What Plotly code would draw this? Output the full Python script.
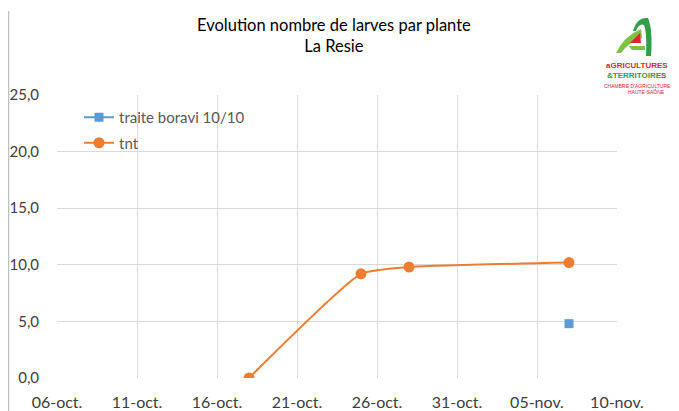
import plotly.graph_objects as go

# ---- data ----
tnt_dates = ["2023-10-18", "2023-10-25", "2023-10-28", "2023-11-07"]
tnt_values = [0.0, 9.2, 9.8, 10.2]
traite_dates = ["2023-11-07"]
traite_values = [4.8]

x_tick_vals = ["2023-10-06", "2023-10-11", "2023-10-16", "2023-10-21",
               "2023-10-26", "2023-10-31", "2023-11-05", "2023-11-10"]
x_tick_text = ["06-oct.", "11-oct.", "16-oct.", "21-oct.",
               "26-oct.", "31-oct.", "05-nov.", "10-nov."]
y_tick_vals = [0, 5, 10, 15, 20, 25]
y_tick_text = ["0,0", "5,0", "10,0", "15,0", "20,0", "25,0"]

# page offset of the plot div (default body margin)
OX, OY = 8, 8
W, H = 679 - OX, 411 - OY
# plot area in page pixels
L, R, T, B = 57, 617, 95, 378

def px(x):
    return (x - L) / (R - L)

def py(y):
    return (B - y) / (B - T)

def path(cmds):
    out = []
    for c in cmds:
        if isinstance(c, str):
            out.append(c)
        else:
            out.append("{:.5f},{:.5f}".format(px(c[0]), py(c[1])))
    return " ".join(out)

FONT = "Lato"
ORANGE = "#ED7D31"
BLUE = "#5B9BD5"

fig = go.Figure()
fig.add_trace(go.Scatter(
    x=traite_dates, y=traite_values, name="traite boravi 10/10",
    mode="lines+markers", legendgroup="a",
    line=dict(color=BLUE, width=2),
    marker=dict(symbol="square", size=9, color=BLUE),
))
fig.add_trace(go.Scatter(
    x=tnt_dates, y=tnt_values, name="tnt",
    mode="lines+markers", legendgroup="b",
    line=dict(color=ORANGE, width=2, shape="spline", smoothing=0.45),
    marker=dict(symbol="circle", size=11, color=ORANGE),
))

LG = "#7DC242"
DG = "#2E9E48"
RED = "#E3262E"
shapes = [
    dict(type="line", xref="paper", yref="paper",
         x0=px(8.5), x1=px(8.5), y0=py(11), y1=py(411),
         line=dict(color="#BFBFBF", width=1.5)),
    # logo: light green leaf
    dict(type="path", xref="paper", yref="paper",
         path=path(["M", (616, 53), "Q", (624, 36), (641, 29), "L", (642, 38),
                    "Q", (629, 42), (621, 53), "Z"]),
         fillcolor=LG, line=dict(width=0)),
    # dark green "a" arch
    dict(type="path", xref="paper", yref="paper",
         path=path(["M", (633, 31), "Q", (637, 17), (648, 18), "Q", (653, 30), (651, 56),
                    "L", (646, 56), "Q", (647, 32), (644, 25), "Q", (639, 23), (636, 31), "Z"]),
         fillcolor=DG, line=dict(width=0)),
    # bowl bottom
    dict(type="path", xref="paper", yref="paper",
         path=path(["M", (629, 46), "L", (645, 46), "L", (645, 50), "L", (632, 50), "Z"]),
         fillcolor=LG, line=dict(width=0)),
    # red triangle
    dict(type="path", xref="paper", yref="paper",
         path=path(["M", (630, 43), "L", (640, 33), "L", (641, 43), "Z"]),
         fillcolor=RED, line=dict(width=0)),
]

LOGO_FONT = "Liberation Sans Narrow, Liberation Sans, sans-serif"
annotations = [
    dict(text="Evolution nombre de larves par plante<br>La Resie",
         xref="paper", yref="paper", x=px(333.5), y=py(13),
         xanchor="center", yanchor="top", showarrow=False,
         font=dict(family=FONT, size=16.5, color="#000000")),
    dict(text="<b><span style='color:%s'>a</span>GRICULTURES</b>" % RED,
         xref="paper", yref="paper", x=px(637), y=py(66),
         xanchor="center", yanchor="middle", showarrow=False,
         font=dict(family=LOGO_FONT, size=8, color=RED)),
    dict(text="<b><span style='color:%s'>&amp;TERRITOIRE</span>S</b>" % DG,
         xref="paper", yref="paper", x=px(637), y=py(76),
         xanchor="center", yanchor="middle", showarrow=False,
         font=dict(family=LOGO_FONT, size=8, color=RED)),
    dict(text="CHAMBRE D'AGRICULTURE",
         xref="paper", yref="paper", x=px(637), y=py(85.5),
         xanchor="center", yanchor="middle", showarrow=False,
         font=dict(family=LOGO_FONT, size=5, color=RED)),
    dict(text="HAUTE-SAÔNE",
         xref="paper", yref="paper", x=px(646), y=py(92),
         xanchor="center", yanchor="middle", showarrow=False,
         font=dict(family=LOGO_FONT, size=5, color=RED)),
]

fig.update_layout(
    width=W, height=H,
    margin=dict(l=L - OX, r=(W + OX) - R, t=T - OY, b=(H + OY) - B, pad=0, autoexpand=False),
    paper_bgcolor="white", plot_bgcolor="white",
    showlegend=True,
    legend=dict(x=px(79), y=py(101), xanchor="left", yanchor="top",
                bgcolor="rgba(0,0,0,0)", traceorder="grouped", tracegroupgap=3,
                font=dict(family=FONT, size=15, color="#595959"),
                itemwidth=30),
    shapes=shapes,
    annotations=annotations,
    font=dict(family=FONT),
)
fig.update_xaxes(
    type="date", range=["2023-10-06", "2023-11-10"], automargin=False,
    tickmode="array", tickvals=x_tick_vals, ticktext=x_tick_text,
    showgrid=True, gridcolor="#D9D9D9", gridwidth=1,
    showline=False, zeroline=False,
    ticks="outside", ticklen=10, tickcolor="rgba(0,0,0,0)",
    tickfont=dict(family=FONT, size=16, color="#404040"),
)
fig.update_yaxes(
    range=[0, 25], automargin=False,
    tickmode="array", tickvals=y_tick_vals, ticktext=y_tick_text,
    showgrid=True, gridcolor="#D9D9D9", gridwidth=1,
    showline=False, zeroline=False,
    ticks="outside", ticklen=14, tickcolor="rgba(0,0,0,0)",
    tickfont=dict(family=FONT, size=15, color="#404040"),
)

fig.write_html("out.html")
